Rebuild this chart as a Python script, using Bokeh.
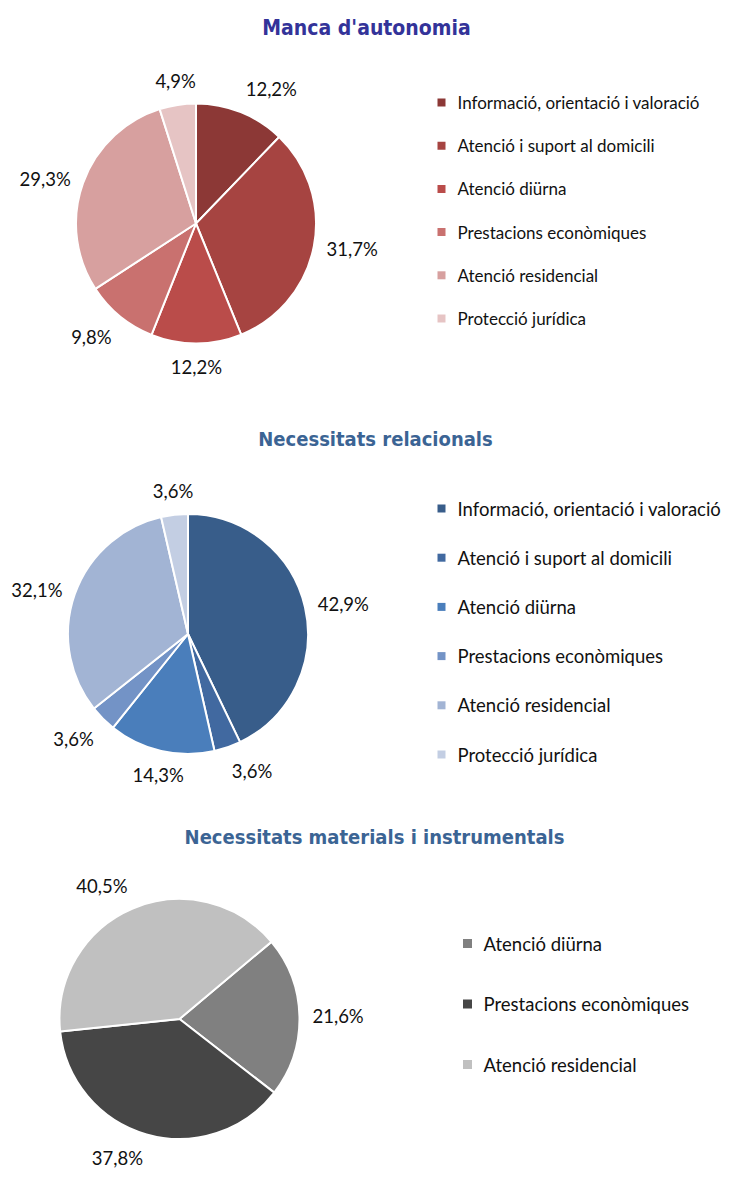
import math
from bokeh.plotting import figure
from bokeh.layouts import column
from bokeh.models import Range1d, ColumnDataSource
from bokeh.core.properties import value
from bokeh.embed import file_html
from bokeh.resources import INLINE

# ---------------- data ----------------
title_1 = "Manca d'autonomia"
cats_1 = ["Informació, orientació i valoració", "Atenció i suport al domicili",
          "Atenció diürna", "Prestacions econòmiques", "Atenció residencial",
          "Protecció jurídica"]
vals_1 = [12.2, 31.7, 12.2, 9.8, 29.3, 4.9]

title_2 = "Necessitats relacionals"
cats_2 = ["Informació, orientació i valoració", "Atenció i suport al domicili",
          "Atenció diürna", "Prestacions econòmiques", "Atenció residencial",
          "Protecció jurídica"]
vals_2 = [42.9, 3.6, 14.3, 3.6, 32.1, 3.6]

title_3 = "Necessitats materials i instrumentals"
cats_3 = ["Atenció diürna", "Prestacions econòmiques", "Atenció residencial"]
vals_3 = [21.6, 37.8, 40.5]

# ---------------- styles ----------------
colors_1 = ["#8C3836", "#A64441", "#BA4C4A", "#C9716F", "#D7A09F", "#E6C4C4"]
colors_2 = ["#385D8A", "#4169A0", "#4A7EBB", "#7393C6", "#A2B4D4", "#C3CEE3"]
colors_3 = ["#808080", "#464646", "#C0C0C0"]

W = 729
LABEL_FONT = "Lato"
TITLE_FONT = "DejaVu Sans Condensed"


def fmt(v):
    return f"{v:.1f}".replace(".", ",") + "%"


def make_chart(title, cats, vals, colors, H, cx, cy, R, start_deg,
               title_xy, title_color, title_size, leg_sq_x, leg_txt_x, leg_top,
               leg_step, leg_font, leg_sq):
    p = figure(width=W, height=H, x_range=Range1d(0, W), y_range=Range1d(0, H),
               output_backend="svg", toolbar_location=None, min_border=0,
               x_axis_location=None, y_axis_location=None,
               outline_line_color=None)
    p.grid.visible = False
    p.background_fill_color = "white"

    total = float(sum(vals))
    starts, ends, lx, ly, aligns, bases, labels = [], [], [], [], [], [], []
    cum = 0.0
    for v in vals:
        a = start_deg + 360.0 * cum / total
        cum += v
        b = start_deg + 360.0 * cum / total
        starts.append(math.radians(90 - b))
        ends.append(math.radians(90 - a))
        m = math.radians((a + b) / 2)
        ux, uy = math.sin(m), math.cos(m)
        rr = R + 13
        lx.append(cx + rr * ux)
        ly.append(cy + rr * uy)
        aligns.append("left" if ux > 0.25 else ("right" if ux < -0.25 else "center"))
        bases.append("bottom" if uy > 0.5 else ("top" if uy < -0.5 else "middle"))
        labels.append(fmt(v))

    src = ColumnDataSource(dict(start=starts, end=ends, color=colors[:len(vals)],
                                cat=cats))
    p.wedge(x=cx, y=cy, radius=R, start_angle="start", end_angle="end",
            fill_color="color", line_color="white", line_width=2, source=src)

    lsrc = ColumnDataSource(dict(x=lx, y=ly, t=labels, al=aligns, bl=bases))
    p.text(x="x", y="y", text="t", text_align="al", text_baseline="bl",
           text_font=value(LABEL_FONT), text_font_size="18.5px",
           text_color="#111111", source=lsrc)

    # title
    p.text(x=[title_xy[0]], y=[title_xy[1]], text=[title], text_align="center",
           text_baseline="middle", text_font=value(TITLE_FONT),
           text_font_style="bold", text_font_size=title_size, text_color=title_color)

    # legend
    ys = [leg_top - i * leg_step for i in range(len(cats))]
    p.scatter(x=[leg_sq_x] * len(cats), y=ys, marker="square", size=leg_sq,
              fill_color=colors[:len(cats)], line_color=None)
    p.text(x=[leg_txt_x] * len(cats), y=ys, text=cats, text_align="left",
           text_baseline="middle", text_font=value(LABEL_FONT),
           text_font_size=leg_font, text_color="#111111")
    return p


p1 = make_chart(title_1, cats_1, vals_1, colors_1, H=400, cx=195.5, cy=177, R=120,
                start_deg=0, title_xy=(366, 373), title_color="#333399",
                title_size="21px",
                leg_sq_x=441, leg_txt_x=457, leg_top=298, leg_step=43.2,
                leg_font="17px", leg_sq=8)
p2 = make_chart(title_2, cats_2, vals_2, colors_2, H=410, cx=187.5, cy=176.5, R=120,
                start_deg=0, title_xy=(375, 372), title_color="#3B6494",
                title_size="20px",
                leg_sq_x=441, leg_txt_x=457, leg_top=302, leg_step=49.2,
                leg_font="18.5px", leg_sq=8)
p3 = make_chart(title_3, cats_3, vals_3, colors_3, H=359, cx=179, cy=150.5, R=120,
                start_deg=50, title_xy=(374, 333), title_color="#3B6494",
                title_size="20px",
                leg_sq_x=467, leg_txt_x=483, leg_top=226, leg_step=60.5,
                leg_font="18.5px", leg_sq=9)

layout = column(p1, p2, p3, spacing=0)
open("out.html", "w").write(file_html(layout, INLINE))
